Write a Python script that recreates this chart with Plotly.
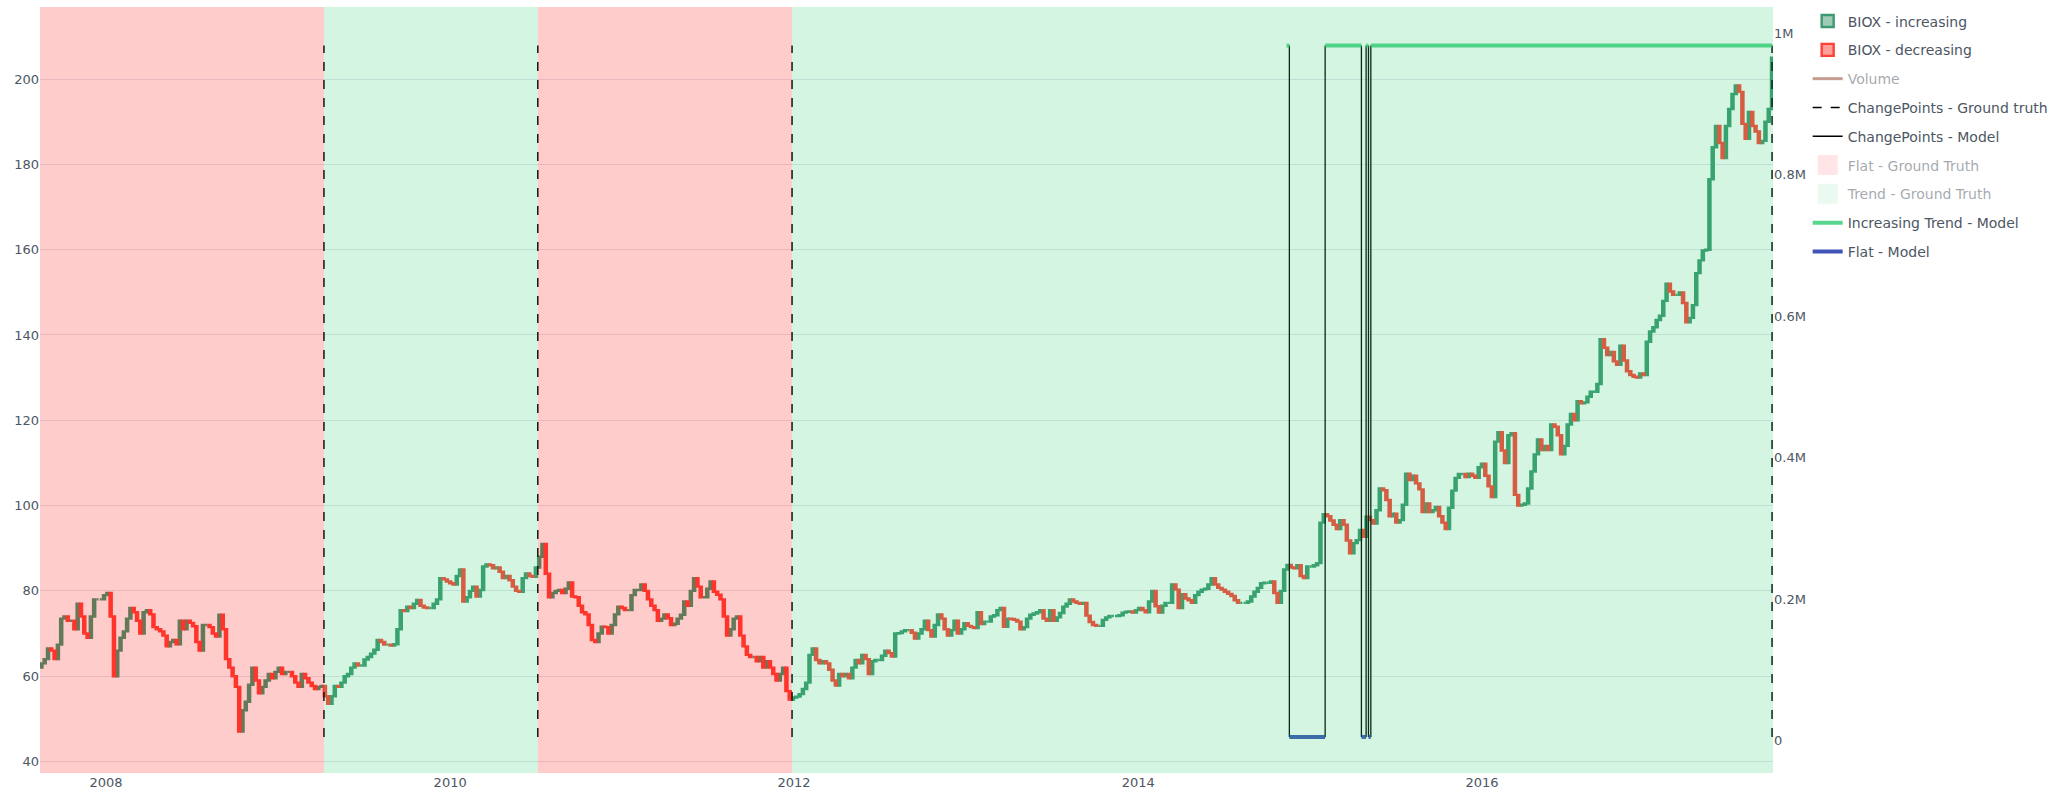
import pandas as pd
import plotly.graph_objects as go

# ---------------- data ----------------
ticker = "BIOX"
start_date = "2007-08-17"          # first weekly bar
first_open = 62.0
close = [
    63, 64, 66.5, 66, 64, 67.4, 73.5, 74, 73, 73,
    71, 77, 74, 70, 69, 74, 78, 78, 78, 79,
    79.5, 74, 60, 66, 69, 70.5, 73.5, 76, 75, 73,
    70, 75, 75.5, 74.5, 71.5, 71, 70.5, 69.5, 67, 68,
    68.5, 67.5, 73, 71, 73, 72.5, 71.7, 68, 66, 72,
    72, 71.5, 70, 69.3, 74.4, 71, 64, 62, 60, 57.5,
    47, 52, 54, 58, 62, 59, 56, 57.5, 59, 60.5,
    59.5, 61, 62, 60.5, 61, 61, 60, 58.5, 57.5, 60.5,
    59.5, 58.5, 57.7, 57, 57.5, 57.7, 55.3, 53.5, 55.3, 57.7,
    57.5, 58.5, 60, 60.5, 62, 63, 62.5, 62.5, 63.9, 64.5,
    65.3, 66.2, 68.5, 68, 67.4, 67.4, 67.2, 67.5, 71, 75.5,
    75.3, 76.3, 76, 77, 77.9, 76.5, 76.1, 76, 76, 77,
    78, 83, 82.7, 82.2, 81.8, 81.5, 83.5, 85, 77.5, 78.5,
    80, 81, 78.7, 80.2, 85.7, 86.2, 86, 85.3, 85.5, 84.5,
    83, 83.5, 82.5, 81, 80, 79.8, 83, 84.1, 83.5, 83.3,
    85.5, 88, 91, 84, 78.5, 79.5, 80, 80.2, 79.5, 80.5,
    82, 78.7, 78.5, 76.5, 75, 74.5, 72, 68.5, 68, 70,
    71.6, 71.5, 70, 72, 74.5, 76.3, 76, 75.5, 75.5, 79,
    80.2, 80.2, 81.5, 80, 78, 76.5, 75.5, 73, 73.5, 74.5,
    73.6, 72, 72.3, 73.5, 74.4, 77.5, 76.5, 80, 83, 81,
    78.5, 78.5, 80.5, 82.2, 79.8, 79.1, 78, 74, 69.5, 71,
    73.5, 74, 69.5, 67, 65, 64.5, 64.5, 63.5, 64.5, 62,
    63.5, 62, 60.5, 59, 60.5, 62, 56.5, 54.5, 55, 55.2,
    55.8, 57, 58.5, 65, 66.5, 63.8, 63, 63.5, 63, 61.5,
    59, 57.8, 60.5, 60, 60.5, 59.5, 62, 63.8, 63, 65,
    64, 60.5, 63.5, 63.8, 63.8, 64.8, 66, 65.4, 64.6, 70,
    70.1, 70.5, 70.8, 70.8, 70.2, 68.8, 70, 71, 73, 70.8,
    69.3, 72, 74.5, 73.5, 71, 69.5, 70.8, 73, 70, 71,
    72.4, 71.8, 71.5, 71.3, 75, 72.2, 72.8, 72.8, 74, 74.3,
    75.5, 76, 71.6, 73.5, 73.4, 73.2, 72.8, 71, 71.5, 73.5,
    74.4, 74.7, 75, 75.5, 73.5, 73, 75.5, 73, 73.8, 74.8,
    76.3, 77, 78, 77.5, 77.2, 77, 77.2, 74.2, 72.7, 72,
    71.8, 71.8, 73.2, 73.8, 74.1, 74.1, 74.1, 74.3, 74.9, 75.1,
    75.2, 74.9, 75.5, 76, 75.5, 75, 77.5, 80, 76.4, 74.9,
    76.5, 77.2, 77.2, 81.5, 80.3, 76, 79.2, 78.2, 77.8, 77.2,
    79, 79.8, 80.3, 80.5, 81.5, 83, 81.5, 80.7, 80.3, 79.8,
    79.3, 78.8, 77.8, 77.2, 77.2, 77.2, 77.5, 78.7, 79.8, 80.7,
    81.8, 81.9, 81.9, 82.2, 79.5, 77.2, 80, 85, 86.1, 85.5,
    85.3, 86, 83.5, 83, 85.7, 85.7, 86, 86.5, 96, 98,
    97.5, 96.5, 95.5, 94.5, 96.6, 95.5, 91.8, 88.8, 91.2, 91.9,
    94.3, 92.7, 97.4, 96.6, 95.8, 98.9, 104, 103.6, 101.3, 97.5,
    98.1, 96, 96.6, 100.2, 107.5, 106, 107, 105.2, 103.8, 98.5,
    100.5, 98.5, 98.9, 99.7, 97.5, 96, 94.5, 99.5, 103.5, 106.5,
    107.4, 107.4, 106.7, 107.5, 107, 106.5, 109, 109.8, 107, 104.5,
    102, 115, 117.2, 112.9, 110, 116.5, 117, 102.5, 100, 100.2,
    100.5, 104, 108, 112, 115.5, 113, 114, 113, 119, 118.5,
    116.5, 112, 114, 119, 121.5, 120, 124.5, 124, 124.2, 125.5,
    126.7, 126.7, 128.5, 139, 137, 135.3, 136, 133.8, 133, 137.5,
    134, 131.5, 130.6, 130.2, 130, 131, 130.6, 138.4, 140.8, 141.8,
    143.5, 144.5, 148, 152, 150.2, 149.4, 149.4, 150, 147.5, 143,
    144, 147, 154.5, 157.5, 159.8, 160, 176.5, 184, 189, 185,
    181.5, 189, 193, 196.5, 198.5, 197, 189.5, 186, 192.3, 189,
    187.7, 185, 185.5, 190, 193, 205,
]

# hidden (legend-only) volume series
volume_dates = ["2007-09-01", "2009-01-01", "2011-01-01", "2013-01-01", "2015-01-01", "2017-01-01", "2017-09-01"]
volume = [410000, 620000, 380000, 300000, 520000, 760000, 982400]

# ground truth regimes and change points
gt_flat_regions = [("2007-08-14", "2009-04-08"), ("2010-07-06", "2011-12-28")]
gt_trend_regions = [("2009-04-08", "2010-07-06"), ("2011-12-28", "2017-09-10")]
gt_changepoints = ["2009-04-08", "2010-07-06", "2011-12-28", "2017-09-08"]

# model output (secondary axis)
model_level_trend = 982400
model_level_flat = 5000
model_trend_segments = [("2014-11-12", "2014-11-18"), ("2015-02-02", "2015-04-20"),
                        ("2015-04-30", "2015-05-05"), ("2015-05-10", "2017-09-08")]
model_flat_segments = [("2014-11-18", "2015-02-02"), ("2015-04-20", "2015-04-30"),
                       ("2015-05-05", "2015-05-10")]
model_changepoints = ["2014-11-18", "2015-02-02", "2015-04-20", "2015-04-30", "2015-05-05", "2015-05-10"]

x_range = ["2007-08-14", "2017-09-10"]

# ---------------- colours ----------------
INC = "#3D9970"
DEC = "#FF4136"
FLAT_FILL = "rgba(255,0,0,0.2)"
TREND_FILL = "rgba(46,204,113,0.2)"
BAR_WIDTH_MS = 4.5 * 24 * 3600 * 1000

# ---------------- build traces ----------------
dates = pd.date_range(start_date, periods=len(close), freq="7D")
opens = [first_open] + close[:-1]

fig = go.Figure()


def bars(idx, name, color, fill):
    lo = [min(opens[i], close[i]) for i in idx]
    hi = [max(opens[i], close[i]) for i in idx]
    return go.Box(
        x=[dates[i] for i in idx], q1=lo, median=[close[i] for i in idx], q3=hi,
        lowerfence=lo, upperfence=hi, name=name, legendgroup=name,
        line=dict(color=color, width=2.4), fillcolor=fill, whiskerwidth=0,
        width=BAR_WIDTH_MS, boxpoints=False, hoverinfo="skip", yaxis="y",
    )


inc_idx = [i for i in range(len(close)) if close[i] >= opens[i]]
dec_idx = [i for i in range(len(close)) if close[i] < opens[i]]
fig.add_trace(bars(inc_idx, f"{ticker} - increasing", INC, "rgba(61,153,112,0.5)"))
fig.add_trace(bars(dec_idx, f"{ticker} - decreasing", DEC, "rgba(255,65,54,0.5)"))

fig.add_trace(go.Scatter(x=volume_dates, y=volume, name="Volume", legendgroup="Volume",
                         mode="lines", line=dict(color="rgb(140,60,35)", width=3),
                         yaxis="y2", visible="legendonly"))


def vlines(ds, bottom, top):
    xs, ys = [], []
    for d in ds:
        xs += [d, d, None]
        ys += [bottom, top, None]
    return xs, ys


gx, gy = vlines(gt_changepoints, model_level_flat, model_level_trend)
fig.add_trace(go.Scatter(x=gx, y=gy, name="ChangePoints - Ground truth", legendgroup="cpgt",
                         mode="lines", line=dict(color="black", width=1.5, dash="dash"),
                         yaxis="y2", hoverinfo="skip"))
mx, my = vlines(model_changepoints, model_level_flat, model_level_trend)
fig.add_trace(go.Scatter(x=mx, y=my, name="ChangePoints - Model", legendgroup="cpm",
                         mode="lines", line=dict(color="black", width=1.3),
                         yaxis="y2", hoverinfo="skip"))

fig.add_trace(go.Scatter(x=[a for a, b in gt_flat_regions], y=[0] * len(gt_flat_regions),
                         name="Flat - Ground Truth", legendgroup="fgt", mode="markers",
                         marker=dict(symbol="square", size=16, color="#FFCCCC",
                                     line=dict(color="#FFCCCC", width=4)),
                         yaxis="y2", visible="legendonly"))
fig.add_trace(go.Scatter(x=[a for a, b in gt_trend_regions], y=[0] * len(gt_trend_regions),
                         name="Trend - Ground Truth", legendgroup="tgt", mode="markers",
                         marker=dict(symbol="square", size=16, color="#D5F5E3",
                                     line=dict(color="#D5F5E3", width=4)),
                         yaxis="y2", visible="legendonly"))


def segs(segments, level):
    xs, ys = [], []
    for a, b in segments:
        xs += [a, b, None]
        ys += [level, level, None]
    return xs, ys


tx, ty = segs(model_trend_segments, model_level_trend)
fig.add_trace(go.Scatter(x=tx, y=ty, name="Increasing Trend - Model", legendgroup="itm",
                         mode="lines", line=dict(color="rgba(46,204,113,0.8)", width=4),
                         yaxis="y2", hoverinfo="skip"))
fx, fy = segs(model_flat_segments, model_level_flat)
fig.add_trace(go.Scatter(x=fx, y=fy, name="Flat - Model", legendgroup="fm",
                         mode="lines", line=dict(color="rgba(30,55,170,0.85)", width=4),
                         yaxis="y2", hoverinfo="skip"))

shapes = []
for a, b in gt_flat_regions:
    shapes.append(dict(type="rect", xref="x", yref="paper", x0=a, x1=b, y0=0, y1=1,
                       fillcolor=FLAT_FILL, line=dict(width=0), layer="above"))
for a, b in gt_trend_regions:
    shapes.append(dict(type="rect", xref="x", yref="paper", x0=a, x1=b, y0=0, y1=1,
                       fillcolor=TREND_FILL, line=dict(width=0), layer="above"))

fig.update_layout(
    width=2069, height=796,
    margin=dict(l=40, r=296, t=5, b=23),
    paper_bgcolor="white", plot_bgcolor="white",
    font=dict(family="DejaVu Sans, Verdana, sans-serif", size=13, color="#4D5663"),
    boxmode="overlay",
    shapes=shapes,
    xaxis=dict(type="date", range=x_range, showgrid=False, zeroline=False, showline=False),
    yaxis=dict(range=[37.3, 216.9], showgrid=True, gridcolor="#E1E5ED", zeroline=False),
    yaxis2=dict(overlaying="y", side="right", range=[-46000, 1037000],
                showgrid=False, zeroline=False),
    legend=dict(tracegroupgap=7.6, y=1.002, font=dict(size=14, color="#4D5663")),
)

fig.write_html("out.html", config={"displayModeBar": False},
               post_script="document.body.style.margin='0';")
